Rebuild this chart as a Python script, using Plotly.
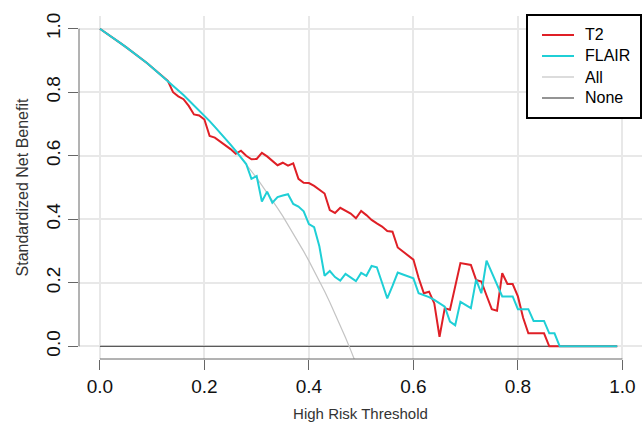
import plotly.graph_objects as go

# Thresholds (0.00 .. 0.99 step 0.01)
thresholds = [round(i * 0.01, 2) for i in range(100)]

# Standardized net benefit
all_nb = [1.000, 0.989, 0.978, 0.966, 0.954, 0.942, 0.930, 0.917, 0.905, 0.892,
          0.878, 0.864, 0.850, 0.836, 0.822, 0.807, 0.791, 0.775, 0.759, 0.743,
          0.726, 0.709, 0.691, 0.673, 0.654, 0.635, 0.615, 0.594, 0.574, 0.552,
          0.530, 0.507, 0.484, 0.460, 0.435, 0.410, 0.383, 0.356, 0.328, 0.299,
          0.269, 0.238, 0.206, 0.173, 0.139, 0.103, 0.066, 0.028, -0.012, -0.053,
          -0.096]

t2_nb = [1.000, 0.989, 0.978, 0.966, 0.954, 0.942, 0.930, 0.917, 0.905, 0.892,
         0.878, 0.864, 0.850, 0.836, 0.800, 0.787, 0.778, 0.757, 0.730, 0.727,
         0.714, 0.662, 0.657, 0.645, 0.633, 0.621, 0.606, 0.616, 0.600, 0.589,
         0.590, 0.609, 0.598, 0.585, 0.570, 0.578, 0.569, 0.576, 0.527, 0.515,
         0.514, 0.505, 0.494, 0.481, 0.429, 0.420, 0.436, 0.428, 0.418, 0.403,
         0.426, 0.413, 0.398, 0.387, 0.377, 0.363, 0.361, 0.311, 0.298, 0.285,
         0.273, 0.215, 0.167, 0.172, 0.135, 0.030, 0.120, 0.115, 0.190, 0.262,
         0.259, 0.256, 0.209, 0.204, 0.160, 0.117, 0.112, 0.230, 0.196, 0.196,
         0.157, 0.090, 0.041, 0.041, 0.041, 0.041, 0.000, 0.000, 0.000, 0.000,
         0.000, 0.000, 0.000, 0.000, 0.000, 0.000, 0.000, 0.000, 0.000, 0.000]

flair_nb = [1.000, 0.989, 0.978, 0.966, 0.954, 0.942, 0.930, 0.917, 0.905, 0.892,
            0.878, 0.864, 0.850, 0.836, 0.822, 0.807, 0.791, 0.775, 0.759, 0.743,
            0.726, 0.709, 0.691, 0.673, 0.654, 0.635, 0.615, 0.594, 0.574, 0.527,
            0.536, 0.456, 0.487, 0.452, 0.470, 0.475, 0.479, 0.448, 0.440, 0.425,
            0.385, 0.375, 0.315, 0.222, 0.237, 0.218, 0.207, 0.228, 0.217, 0.205,
            0.231, 0.222, 0.253, 0.249, 0.200, 0.151, 0.190, 0.232, 0.226, 0.220,
            0.214, 0.167, 0.162, 0.155, 0.146, 0.135, 0.125, 0.078, 0.066, 0.140,
            0.130, 0.120, 0.210, 0.167, 0.270, 0.232, 0.195, 0.157, 0.157, 0.157,
            0.117, 0.117, 0.117, 0.080, 0.080, 0.080, 0.041, 0.041, 0.000, 0.000,
            0.000, 0.000, 0.000, 0.000, 0.000, 0.000, 0.000, 0.000, 0.000, 0.000]

none_nb = [0.0] * len(thresholds)

x_ticks = [0.0, 0.2, 0.4, 0.6, 0.8, 1.0]
x_tick_labels = ["0.0", "0.2", "0.4", "0.6", "0.8", "1.0"]
y_ticks = [0.0, 0.2, 0.4, 0.6, 0.8, 1.0]
y_tick_labels = ["0.0", "0.2", "0.4", "0.6", "0.8", "1.0"]

legend_names = ["T2", "FLAIR", "All", "None"]

RED = "#DF1F26"
CYAN = "#1FCFD6"
LIGHT = "#C4C4C4"
DARK = "#5A5A5A"
FONT = "Liberation Sans, Arial, sans-serif"

W, H = 642, 423
ML, MR, MT, MB = 79, 0, 16, 64
PW, PH = W - ML - MR, H - MT - MB


def px(xp):
    return (xp - ML) / PW


def py(yp):
    return 1 - (yp - MT) / PH


legend_colors = {"T2": (RED, 2), "FLAIR": (CYAN, 2), "All": (LIGHT, 1.2), "None": (DARK, 1.3)}

fig = go.Figure()
fig.add_trace(go.Scatter(x=thresholds[:len(none_nb)], y=none_nb, mode="lines",
                         name="None", line=dict(color=DARK, width=1.3)))
fig.add_trace(go.Scatter(x=thresholds[:len(all_nb)], y=all_nb, mode="lines",
                         name="All", line=dict(color=LIGHT, width=1.2)))
fig.add_trace(go.Scatter(x=thresholds, y=t2_nb, mode="lines", name="T2",
                         line=dict(color=RED, width=2)))
fig.add_trace(go.Scatter(x=thresholds, y=flair_nb, mode="lines", name="FLAIR",
                         line=dict(color=CYAN, width=2)))

axis_common = dict(
    showline=False, zeroline=False, automargin=False,
    showgrid=True, gridcolor="#E8E8E8", gridwidth=2,
    ticks="outside", tickcolor="#666666", tickwidth=1, ticklen=10,
    tickfont=dict(family=FONT, size=19, color="#111111"),
)

shapes = [
    # x axis line from first to last tick
    dict(type="line", xref="x", yref="paper", x0=x_ticks[0], x1=x_ticks[-1], y0=0, y1=0,
         line=dict(color="#666666", width=1)),
    # y axis line from first to last tick
    dict(type="line", xref="paper", yref="y", x0=0, x1=0, y0=y_ticks[0], y1=y_ticks[-1],
         line=dict(color="#666666", width=1)),
    # legend box
    dict(type="rect", xref="paper", yref="paper",
         x0=px(527), x1=px(641), y0=py(118), y1=py(15),
         line=dict(color="black", width=2), fillcolor="white", layer="above"),
]
annotations = []
row_y = [35, 56, 77, 98]
for name, yp in zip(legend_names, row_y):
    color, width = legend_colors[name]
    shapes.append(dict(type="line", xref="paper", yref="paper",
                       x0=px(542), x1=px(574), y0=py(yp), y1=py(yp),
                       line=dict(color=color, width=width), layer="above"))
    annotations.append(dict(xref="paper", yref="paper", x=px(583), y=py(yp),
                            xanchor="left", yanchor="middle", showarrow=False,
                            text=name, font=dict(family=FONT, size=16, color="#000000")))

fig.update_layout(
    width=W, height=H,
    margin=dict(l=ML, r=MR, t=MT, b=MB, autoexpand=False),
    paper_bgcolor="white", plot_bgcolor="white",
    showlegend=False,
    hovermode=False,
    xaxis=dict(range=[-0.04, 1.0375], tickvals=x_ticks, ticktext=x_tick_labels,
               title=dict(text="High Risk Threshold", standoff=12,
                          font=dict(family=FONT, size=15, color="#333333")),
               **axis_common),
    yaxis=dict(range=[-0.04, 1.04], tickvals=y_ticks, ticktext=y_tick_labels,
               tickangle=-90,
               title=dict(text="Standardized Net Benefit", standoff=10,
                          font=dict(family=FONT, size=16, color="#333333")),
               **axis_common),
    shapes=shapes,
    annotations=annotations,
)

fig.write_html("out.html", config={"displayModeBar": False, "staticPlot": True},
               post_script="document.body.style.margin='0';document.body.style.overflow='hidden';")
